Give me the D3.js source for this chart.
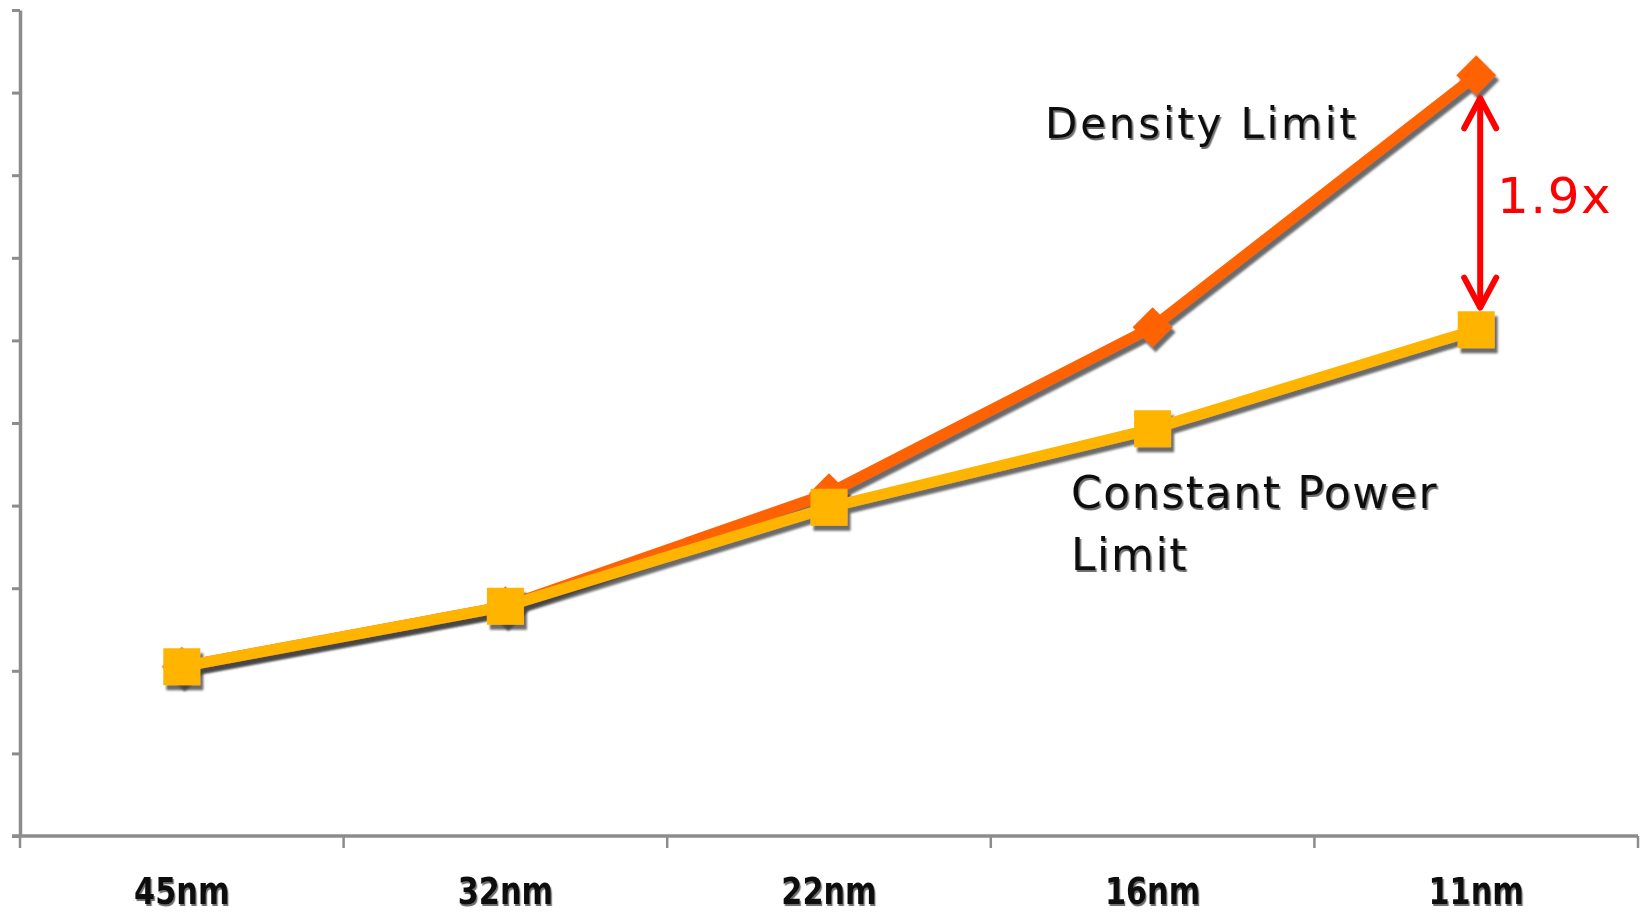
<!DOCTYPE html>
<html>
<head>
<meta charset="utf-8">
<script src="https://cdn.jsdelivr.net/npm/d3@7/dist/d3.min.js"></script>
<style>
  html, body { margin: 0; padding: 0; background: #ffffff; }
  svg { display: block; }
</style>
</head>
<body>
<svg id="chart" width="1644" height="914"></svg>
<script>
// ---- data ----
const categories = ["45nm", "32nm", "22nm", "16nm", "11nm"];
const densityLimit = [2.05, 2.78, 4.15, 6.16, 9.21];
const constantPowerLimit = [2.05, 2.78, 3.98, 4.93, 6.13];
const yTicks = [0, 1, 2, 3, 4, 5, 6, 7, 8, 9, 10];
const seriesLabels = ["Density Limit", "Constant Power", "Limit"];
const ratioLabel = "1.9x";

// ---- setup ----
const svg = d3.select("#chart");
const plotLeft = 20, plotRight = 1638, plotTop = 10, plotBottom = 836;

const x = d3.scaleBand().domain(categories).range([plotLeft, plotRight]).paddingInner(0).paddingOuter(0);
const y = d3.scaleLinear().domain([0, 10]).range([plotBottom, plotTop]);
const cx = c => x(c) + x.bandwidth() / 2;

const defs = svg.append("defs");
const sh = defs.append("filter").attr("id", "shadow")
  .attr("x", "-10%").attr("y", "-10%").attr("width", "130%").attr("height", "130%");
sh.append("feDropShadow").attr("dx", 3).attr("dy", 5).attr("stdDeviation", 1.2)
  .attr("flood-color", "#3a3a3a").attr("flood-opacity", 0.75);
const tsh = defs.append("filter").attr("id", "tshadow")
  .attr("x", "-5%").attr("y", "-20%").attr("width", "115%").attr("height", "150%");
tsh.append("feDropShadow").attr("dx", 1.5).attr("dy", 2).attr("stdDeviation", 0.5)
  .attr("flood-color", "#555").attr("flood-opacity", 0.85);

const axisColor = "#8c8c8c";

// ---- y axis ----
const yAxis = svg.append("g").attr("transform", `translate(${plotLeft},0)`)
  .call(d3.axisLeft(y).tickValues(yTicks).tickSize(8).tickSizeOuter(0).tickFormat(""));
yAxis.select(".domain").attr("stroke", axisColor).attr("stroke-width", 3.5);
yAxis.selectAll(".tick line").attr("stroke", axisColor).attr("stroke-width", 3);

// ---- x axis ----
const xAxisG = svg.append("g").attr("transform", `translate(0,${plotBottom})`);
xAxisG.append("line").attr("x1", plotLeft - 8).attr("x2", plotRight).attr("y1", 0).attr("y2", 0)
  .attr("stroke", axisColor).attr("stroke-width", 3.5);
const boundaries = categories.map(c => x(c)).concat([x(categories[categories.length - 1]) + x.bandwidth()]);
xAxisG.selectAll("line.btick").data(boundaries).enter().append("line").attr("class", "btick")
  .attr("x1", d => d).attr("x2", d => d).attr("y1", 0).attr("y2", 12)
  .attr("stroke", axisColor).attr("stroke-width", 2.5);

svg.append("g").selectAll("text").data(categories).enter().append("text")
  .attr("transform", d => `translate(${cx(d)},904) scale(0.82,1.02)`)
  .attr("text-anchor", "middle")
  .attr("font-family", "DejaVu Sans, Verdana, sans-serif")
  .attr("font-weight", "bold").attr("font-size", 37).attr("fill", "#111")
  .attr("filter", "url(#tshadow)")
  .text(d => d);

// ---- lines ----
const line = d3.line().x((d, i) => cx(categories[i])).y(d => y(d));

const gD = svg.append("g").attr("filter", "url(#shadow)");
gD.append("path").datum(densityLimit).attr("d", line)
  .attr("fill", "none").attr("stroke", "#ff6200").attr("stroke-width", 11).attr("stroke-linejoin", "round");
gD.selectAll("path.m").data(densityLimit).enter().append("path").attr("class", "m")
  .attr("d", d3.symbol().type(d3.symbolSquare).size(800)())
  .attr("transform", (d, i) => `translate(${cx(categories[i])},${y(d)}) rotate(45)`)
  .attr("fill", "#ff6200");

const gP = svg.append("g").attr("filter", "url(#shadow)");
gP.append("path").datum(constantPowerLimit).attr("d", line)
  .attr("fill", "none").attr("stroke", "#ffb400").attr("stroke-width", 11).attr("stroke-linejoin", "round");
gP.selectAll("path.m").data(constantPowerLimit).enter().append("path").attr("class", "m")
  .attr("d", d3.symbol().type(d3.symbolSquare).size(37 * 37)())
  .attr("transform", (d, i) => `translate(${cx(categories[i])},${y(d)})`)
  .attr("fill", "#ffb400");

// ---- series labels ----
const lab = svg.append("g").attr("font-family", "DejaVu Sans, Verdana, sans-serif")
  .attr("fill", "#111").attr("filter", "url(#tshadow)");
lab.append("text").attr("x", 1045).attr("y", 138).attr("font-size", 42)
  .attr("letter-spacing", 2.8).text(seriesLabels[0]);
lab.append("text").attr("x", 1071).attr("y", 508).attr("font-size", 44)
  .attr("letter-spacing", 1.6).text(seriesLabels[1]);
lab.append("text").attr("x", 1071).attr("y", 570).attr("font-size", 44)
  .attr("letter-spacing", 1.6).text(seriesLabels[2]);

// ---- ratio arrow ----
const last = categories.length - 1;
const ax = cx(categories[last]) + 4;
const yTop = y(densityLimit[last]) + 23;
const yBot = y(constantPowerLimit[last]) - 22;
const arrow = svg.append("g").attr("stroke", "#ff0000").attr("stroke-width", 6)
  .attr("stroke-linecap", "round").attr("stroke-linejoin", "round").attr("fill", "none");
arrow.append("line").attr("x1", ax).attr("x2", ax).attr("y1", yTop + 2).attr("y2", yBot - 2);
arrow.append("polyline").attr("points", `${ax - 16},${yTop + 30} ${ax},${yTop} ${ax + 16},${yTop + 30}`);
arrow.append("polyline").attr("points", `${ax - 16},${yBot - 30} ${ax},${yBot} ${ax + 16},${yBot - 30}`);

svg.append("text").attr("x", 1497).attr("y", 213)
  .attr("font-family", "DejaVu Sans, Verdana, sans-serif").attr("font-size", 50)
  .attr("letter-spacing", 1.5).attr("fill", "#ff0000").text(ratioLabel);
</script>
</body>
</html>
